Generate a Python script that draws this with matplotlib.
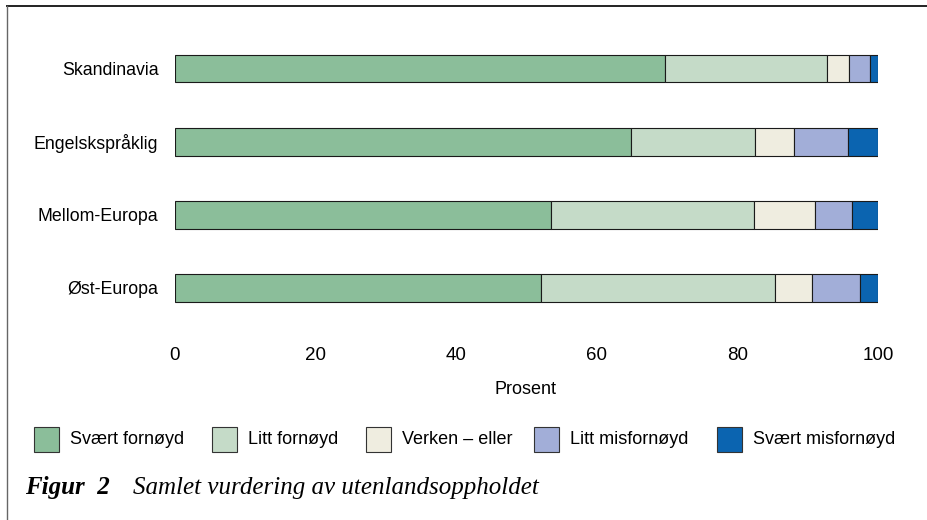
import numpy as np
import matplotlib
matplotlib.use("Agg")
import matplotlib.pyplot as plt
from matplotlib.patches import Rectangle
from matplotlib.lines import Line2D

plt.rcParams['font.family'] = ['Liberation Sans', 'DejaVu Sans']

# Data (percent)
regions = ["Skandinavia", "Engelskspråklig", "Mellom-Europa", "Øst-Europa"]
categories = ["Svært fornøyd", "Litt fornøyd", "Verken – eller", "Litt misfornøyd", "Svært misfornøyd"]
svaert_fornoyd = [69.7, 64.9, 53.5, 52.0]
litt_fornoyd = [23.0, 17.6, 28.9, 33.4]
verken_eller = [3.2, 5.5, 8.7, 5.2]
litt_misfornoyd = [3.0, 7.8, 5.2, 6.9]
svaert_misfornoyd = [1.1, 4.2, 3.7, 2.5]
xticks = [0, 20, 40, 60, 80, 100]

series = [svaert_fornoyd, litt_fornoyd, verken_eller, litt_misfornoyd, svaert_misfornoyd]
colors = ["#8bbe9a", "#c5dbc8", "#efede0", "#a2aed8", "#0b64b0"]

W, H = 927, 520
fig = plt.figure(figsize=(W / 100, H / 100), dpi=100)

# frame line (top + left)
fig.add_artist(Line2D([7 / W, 1.0], [1 - 6 / H, 1 - 6 / H], color="#222222", lw=1.4))
fig.add_artist(Line2D([7 / W, 7 / W], [0, 1 - 6 / H], color="#666666", lw=1.0))

ax = fig.add_axes([175 / W, 1 - 324.5 / H, (878 - 175) / W, (324.5 - 32) / H])

y = np.arange(len(regions))
left = np.zeros(len(regions))
for vals, col, lab in zip(series, colors, categories):
    ax.barh(y, vals, left=left, height=0.38, color=col, edgecolor="#1a1a1a",
            linewidth=0.8, label=lab)
    left += np.array(vals)

ax.set_ylim(len(regions) - 0.5, -0.5)
ax.set_xlim(0, 100)
ax.set_yticks(y)
ax.set_yticklabels(regions, fontsize=12.8)
ax.set_xticks(xticks)
ax.set_xticklabels([str(t) for t in xticks], fontsize=13.5)
ax.tick_params(axis="both", length=0)
ax.tick_params(axis="x", pad=16)
ax.tick_params(axis="y", pad=12)
for s in ax.spines.values():
    s.set_visible(False)
fig.text(526 / W, 1 - 389 / H, "Prosent", ha="center", va="center", fontsize=13)

# legend, drawn manually
patch_x = [34, 212, 366, 534, 717]
for px, col, lab in zip(patch_x, colors, categories):
    fig.add_artist(Rectangle((px / W, 1 - 452 / H), 25 / W, 25 / H, facecolor=col,
                             edgecolor="#333333", linewidth=0.8))
    fig.text((px + 36) / W, 1 - 439 / H, lab, ha="left", va="center", fontsize=13)

# caption
fig.text(25 / W, 1 - 494 / H, "Figur  2", ha="left", va="baseline", fontsize=18,
         family="Liberation Serif", style="italic", weight="bold")
fig.text(133 / W, 1 - 494 / H, "Samlet vurdering av utenlandsoppholdet", ha="left",
         va="baseline", fontsize=18, family="Liberation Serif", style="italic")

fig.savefig("out.png", dpi=100)
